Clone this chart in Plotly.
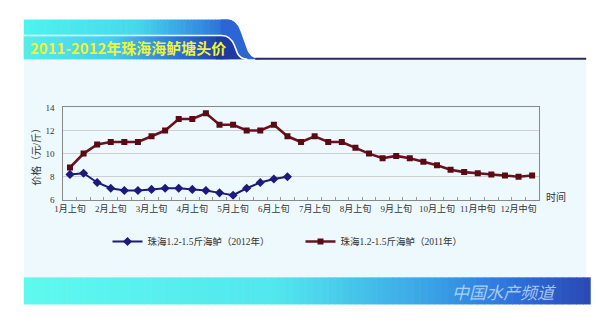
import plotly.graph_objects as go

# ---- data ----
months = ["1月", "2月", "3月", "4月", "5月", "6月", "7月", "8月", "9月", "10月"]
dekads = ["上旬", "中旬", "下旬"]
categories = [m + d for m in months for d in dekads] + ["11月中旬", "11月下旬", "12月上旬", "12月中旬", "12月下旬"]
label_every = 3

price_2012 = [8.2, 8.3, 7.5, 7.0, 6.8, 6.8, 6.9, 7.0, 7.0, 6.9, 6.8, 6.6, 6.4, 7.0, 7.5, 7.8, 8.0]
price_2011 = [8.8, 10.0, 10.8, 11.0, 11.0, 11.0, 11.5, 12.0, 13.0, 13.0, 13.5, 12.5, 12.5, 12.0, 12.0,
              12.5, 11.5, 11.0, 11.5, 11.0, 11.0, 10.5, 10.0, 9.6, 9.8, 9.6, 9.3, 9.0, 8.6, 8.4,
              8.3, 8.2, 8.1, 8.0, 8.1]

name_2012 = "珠海1.2-1.5斤海鲈（2012年）"
name_2011 = "珠海1.2-1.5斤海鲈（2011年）"
title_text = "2011-2012年珠海海鲈塘头价"
ytitle = "价格（元/斤）"
xtitle = "时间"
brand = "中国水产频道"

W, H = 600, 324
def px(x): return x / W
def py(y): return 1 - y / H

def lerp_color(stops, t):
    for i in range(len(stops) - 1):
        t0, c0 = stops[i]
        t1, c1 = stops[i + 1]
        if t0 <= t <= t1:
            f = (t - t0) / (t1 - t0) if t1 > t0 else 0
            a = [int(c0[k:k+2], 16) for k in (1, 3, 5)]
            b = [int(c1[k:k+2], 16) for k in (1, 3, 5)]
            return "rgb(%d,%d,%d)" % tuple(round(a[j] + (b[j] - a[j]) * f) for j in range(3))
    return stops[-1][1]

shapes = []
def rect(x0, y0, x1, y1, color):
    shapes.append(dict(type="rect", xref="paper", yref="paper", x0=px(x0), x1=px(x1),
                       y0=py(y1), y1=py(y0), fillcolor=color, line=dict(width=0), layer="below"))

def grad_rect(x0, y0, x1, y1, stops, n=60):
    w = (x1 - x0) / n
    for i in range(n):
        rect(x0 + i * w, y0, x0 + (i + 1) * w + 0.6, y1, lerp_color(stops, (i + 0.5) / n))

def path(pts_cmd, fill=None, line=None):
    out = []
    for tok in pts_cmd.split():
        if "," in tok:
            a, b = tok.split(",")
            out.append("%.5f,%.5f" % (px(float(a)), py(float(b))))
        else:
            out.append(tok)
    d = dict(type="path", xref="paper", yref="paper", path=" ".join(out), layer="below")
    if fill:
        d["fillcolor"] = fill
    d["line"] = line if line else dict(width=0)
    shapes.append(d)

# light panel
rect(15, 57, 586, 281, "#eef9fe")
# banner upper stripe
grad_rect(15, 15, 223, 56, [(0, "#4ef3ee"), (0.55, "#47d8ec"), (0.85, "#3590e2"), (1, "#2c6ad6")])
path("M 215,15 L 222,15 Q 231,15 235,27 L 242,47 Q 246,56 256,56 L 215,56 Z", fill="#2c66d4")
# banner lower band
grad_rect(15, 32, 217, 56, [(0, "#58ede8"), (0.45, "#45cdea"), (0.75, "#2f78d8"), (1, "#1e3ba4")])
path("M 210,32 L 216,32 Q 224,32 228,42 L 231,50 Q 234,56 241,56 L 210,56 Z", fill="#1e3aa2")
path("M 15,31.5 L 216,31.5 Q 225,31.5 229,42 L 232,50 Q 235,56 242,56", line=dict(color="white", width=1.6))
# navy line
shapes.append(dict(type="line", xref="paper", yref="paper", x0=px(250), x1=px(586), y0=py(55.5), y1=py(55.5),
                   line=dict(color="#262a5c", width=2), layer="below"))
# bottom band
grad_rect(15, 281, 590, 309, [(0, "#5ff9ef"), (0.45, "#52e6ee"), (0.72, "#3aa2e6"), (0.86, "#2f72dc"), (1, "#2a48b4")], n=80)

fig = go.Figure()
fig.add_trace(go.Scatter(x=categories[:len(price_2012)], y=price_2012, name=name_2012, mode="lines+markers",
                         line=dict(color="#1c1a7c", width=2), marker=dict(symbol="diamond", size=7, color="#1c1a7c")))
fig.add_trace(go.Scatter(x=categories[:len(price_2011)], y=price_2011, name=name_2011, mode="lines+markers",
                         line=dict(color="#6b1220", width=2.6), marker=dict(symbol="square", size=6, color="#5a0a12")))

tickfont = dict(family="Liberation Serif, Noto Sans CJK SC", size=9, color="#333333")
ticktext = [c if i % label_every == 0 else "" for i, c in enumerate(categories)]

annotations = [
    dict(text=title_text, xref="paper", yref="paper", x=px(19), y=py(44), xanchor="left", yanchor="middle",
         showarrow=False, font=dict(family="Noto Sans CJK SC", size=15, color="#eef33c", weight="bold")),
    dict(text=ytitle, xref="paper", yref="paper", x=px(28), y=py(154), xanchor="center", yanchor="middle",
         textangle=-90, showarrow=False,
         font=dict(family="Liberation Serif, Noto Sans CJK SC", size=10, color="#333333")),
    dict(text=xtitle, xref="paper", yref="paper", x=px(555), y=py(198), xanchor="center", yanchor="middle",
         showarrow=False, font=dict(family="Noto Sans CJK SC", size=10, color="#333333")),
    dict(text=brand, xref="paper", yref="paper", x=px(503), y=py(296), xanchor="center", yanchor="middle",
         showarrow=False,
         font=dict(family="Noto Sans CJK SC", size=17, color="rgba(205,230,255,0.75)", style="italic")),
]

fig.update_layout(
    width=W, height=H, margin=dict(l=0, r=0, t=0, b=0),
    paper_bgcolor="white", plot_bgcolor="rgba(0,0,0,0)",
    shapes=shapes, annotations=annotations,
    showlegend=True,
    legend=dict(orientation="h", x=px(100), y=py(244), xanchor="left", yanchor="middle",
                font=dict(family="Liberation Serif, Noto Sans CJK SC", size=9.5, color="#333333"),
                bgcolor="rgba(0,0,0,0)", entrywidth=148, itemwidth=30),
    xaxis=dict(domain=[px(55), px(538)], type="category", categoryorder="array", categoryarray=categories,
               range=[-0.5, len(categories) - 0.5], tickvals=categories, ticktext=ticktext,
               tickson="boundaries", ticks="inside", ticklen=3, tickcolor="#999999",
               showline=True, linecolor="#888888", linewidth=1, mirror=True, showgrid=False,
               tickfont=tickfont, tickangle=0, fixedrange=True),
    yaxis=dict(domain=[py(201), py(105.7)], range=[6, 14], dtick=2, showgrid=True, gridcolor="#cfcfcf",
               showline=True, linecolor="#888888", linewidth=1, mirror=True, zeroline=False,
               tickfont=tickfont, ticklabelstandoff=6, fixedrange=True),
)

fig.write_html("out.html")
